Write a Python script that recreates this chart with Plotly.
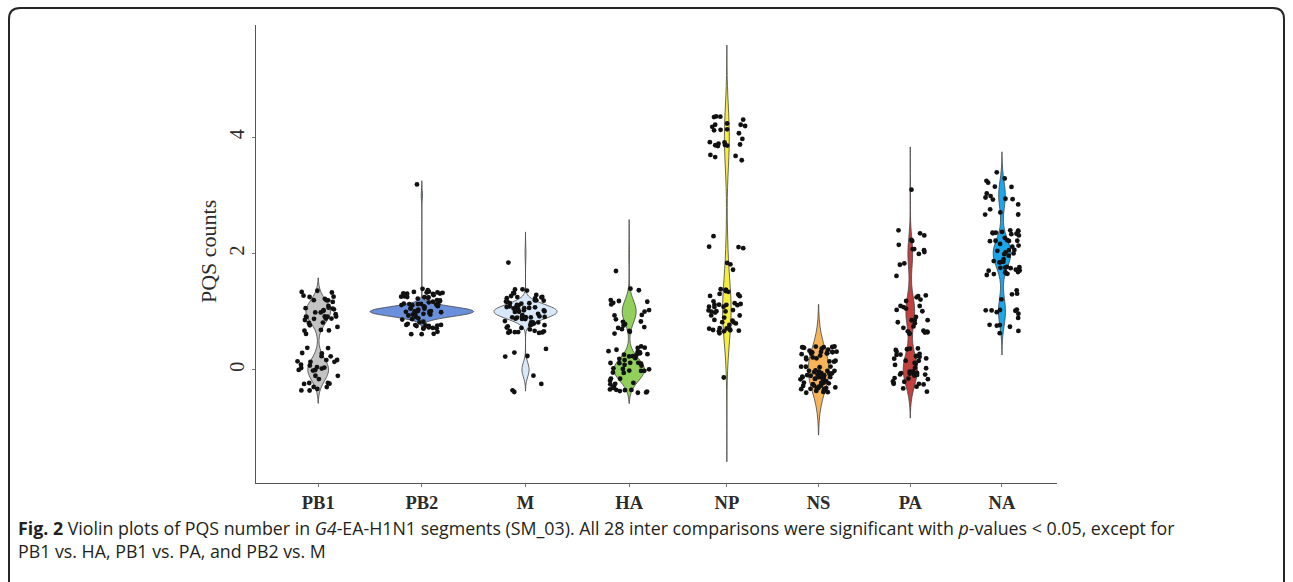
import numpy as np
import plotly.graph_objects as go

# PQS counts per influenza segment: number of isolates having 0..4 PQS
segments = ["PB1", "PB2", "M", "HA", "NP", "NS", "PA", "NA"]
n_with_0 = [32, 0, 8, 48, 1, 80, 42, 0]
n_with_1 = [38, 79, 70, 22, 44, 0, 26, 18]
n_with_2 = [0, 0, 1, 1, 7, 0, 14, 45]
n_with_3 = [0, 1, 0, 0, 0, 0, 1, 17]
n_with_4 = [0, 0, 0, 0, 26, 0, 0, 0]

fill_colors = ["#c3c3c3", "#6a8fdb", "#d9e8f8", "#92d05c",
               "#f6ee3c", "#f7b458", "#c2403e", "#1ca7ec"]

W, H = 1293, 582
SERIF = "Liberation Serif"


def px_x(p):
    return p / W


def px_y(p):
    return 1 - p / H


def bw_nrd0(v):
    """Silverman's rule of thumb, as in R's bw.nrd0."""
    hi = np.std(v, ddof=1)
    q1, q3 = np.percentile(v, [25, 75])
    lo = min(hi, (q3 - q1) / 1.34)
    if lo == 0:
        lo = hi
    if lo == 0:
        lo = abs(v[0])
    if lo == 0:
        lo = 1.0
    return 0.9 * lo * len(v) ** -0.2


counts_by_level = [n_with_0, n_with_1, n_with_2, n_with_3, n_with_4]
samples = []
for k in range(len(segments)):
    v = np.concatenate([np.full(c[k], lvl, dtype=float)
                        for lvl, c in enumerate(counts_by_level)])
    samples.append(v)

fig = go.Figure()
rng = np.random.default_rng(3)   # display jitter of the integer counts
jitter_traces = []

for k, (name, v) in enumerate(zip(segments, samples)):
    axis = "x" if k < 4 else "x2"
    pos = k if k < 4 else k - 4
    bw = bw_nrd0(v)
    # one shared scale group -> equal-area violins
    fig.add_trace(go.Violin(
        x=np.full(len(v), pos), y=v, xaxis=axis, yaxis="y",
        name=name, bandwidth=bw, spanmode="manual",
        span=[v.min() - 3 * bw, v.max() + 3 * bw],
        scalegroup="all", scalemode="width",
        fillcolor=fill_colors[k], line=dict(color="#454545", width=0.8),
        points=False, showlegend=False, hoveron="violins",
    ))
    jx = pos + rng.uniform(-0.2, 0.2, len(v))
    jy = v + rng.uniform(-0.4, 0.4, len(v))
    jitter_traces.append(go.Scatter(
        x=jx, y=jy, xaxis=axis, yaxis="y", mode="markers",
        marker=dict(color="#111111", size=4.8, line=dict(width=0)),
        showlegend=False, hoverinfo="skip",
    ))

for t in jitter_traces:
    fig.add_trace(t)

axis_common = dict(
    showline=True, linecolor="#555555", linewidth=1.3,
    ticks="outside", ticklen=3, tickcolor="#777777", tickwidth=1,
    showgrid=False, zeroline=False, anchor="y",
    tickfont=dict(family=SERIF, size=18.5, color="#2b2b2b", weight="bold"),
)

fig.update_layout(
    width=W, height=H,
    margin=dict(l=0, r=0, t=0, b=0),
    paper_bgcolor="white", plot_bgcolor="white",
    violinmode="overlay", violingap=0, violingroupgap=0,
    xaxis=dict(domain=[px_x(256), px_x(681)], range=[-0.6, 3.5],
               tickvals=list(range(4)), ticktext=segments[:4], **axis_common),
    xaxis2=dict(domain=[px_x(681), px_x(1057)], range=[-0.5, 3.6],
                tickvals=list(range(4)), ticktext=segments[4:], **axis_common),
    yaxis=dict(domain=[px_y(483), px_y(25)], range=[-1.95, 5.93],
               tickvals=[0, 2, 4], tickangle=-90, anchor="x",
               showline=True, linecolor="#555555", linewidth=1.3,
               ticks="outside", ticklen=3, tickcolor="#777777",
               showgrid=False, zeroline=False,
               tickfont=dict(family=SERIF, size=20, color="#2b2b2b")),
)

# y-axis title
fig.add_annotation(
    text="PQS counts", x=px_x(208), y=px_y(252), xref="paper", yref="paper",
    textangle=-90, showarrow=False, xanchor="center", yanchor="middle",
    font=dict(family=SERIF, size=22, color="#2b2b2b"),
)

# figure caption
cap_font = dict(family="Open Sans", size=17.8, color="#231f20")
fig.add_annotation(
    text=("<b>Fig. 2</b> Violin plots of PQS number in <i>G4</i>-EA-H1N1 "
          "segments (SM_03). All 28 inter comparisons were significant with "
          "<i>p</i>-values &lt; 0.05, except for"),
    x=px_x(16), y=px_y(528), xref="paper", yref="paper",
    showarrow=False, xanchor="left", yanchor="middle", font=cap_font,
)
fig.add_annotation(
    text="PB1 vs. HA, PB1 vs. PA, and PB2 vs. M",
    x=px_x(16), y=px_y(551), xref="paper", yref="paper",
    showarrow=False, xanchor="left", yanchor="middle", font=cap_font,
)

# rounded outer frame (open at the bottom)
x0, x1 = px_x(9), px_x(1284)
yt, yb = px_y(8), px_y(640)
rx, ry = 11 / W, 11 / H
frame = (f"M {x0},{yb} L {x0},{yt - ry} Q {x0},{yt} {x0 + rx},{yt} "
         f"L {x1 - rx},{yt} Q {x1},{yt} {x1},{yt - ry} L {x1},{yb}")
fig.add_shape(type="path", path=frame, xref="paper", yref="paper",
              line=dict(color="#262626", width=2))

fig.write_html("out.html")
